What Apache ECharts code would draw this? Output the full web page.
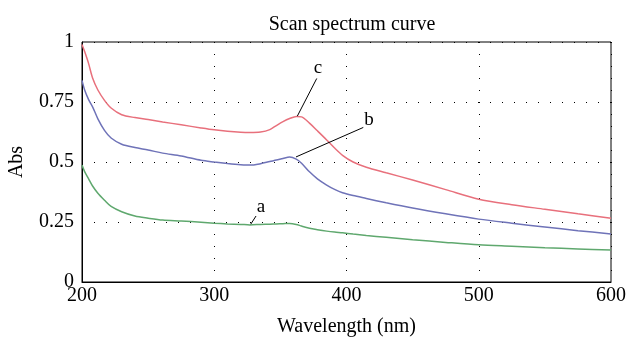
<!DOCTYPE html>
<html>
<head>
<meta charset="utf-8">
<script src="https://cdn.jsdelivr.net/npm/echarts@6/dist/echarts.min.js"></script>
<style>
  html, body { margin: 0; padding: 0; background: #fff; }
  #chart { width: 630px; height: 339px; }
</style>
</head>
<body>
<div id="chart"></div>
<script>
// wavelength samples (nm)
const wavelengths = [200, 202, 205, 208, 212, 217, 222, 230, 240, 250, 261, 275, 290, 300, 310, 320, 327, 335, 342, 347, 352, 357, 362, 366, 372, 378, 385, 391, 397, 405, 415, 430, 450, 475, 500, 525, 550, 575, 600];

// absorbance
const curveA = [0.487, 0.46, 0.43, 0.40, 0.37, 0.341, 0.315, 0.293, 0.275, 0.266, 0.258, 0.254, 0.249, 0.245, 0.242, 0.240, 0.238, 0.240, 0.241, 0.242, 0.243, 0.244, 0.240, 0.233, 0.224, 0.218, 0.212, 0.208, 0.205, 0.200, 0.194, 0.186, 0.176, 0.165, 0.155, 0.149, 0.143, 0.138, 0.133];
const curveB = [0.84, 0.80, 0.76, 0.73, 0.68, 0.632, 0.600, 0.574, 0.560, 0.550, 0.537, 0.525, 0.507, 0.500, 0.494, 0.489, 0.487, 0.493, 0.502, 0.508, 0.515, 0.521, 0.512, 0.495, 0.459, 0.430, 0.404, 0.386, 0.372, 0.360, 0.348, 0.330, 0.308, 0.284, 0.262, 0.245, 0.229, 0.214, 0.200];
const curveC = [0.99, 0.96, 0.91, 0.85, 0.80, 0.757, 0.725, 0.697, 0.685, 0.677, 0.667, 0.655, 0.642, 0.634, 0.628, 0.624, 0.623, 0.625, 0.635, 0.652, 0.668, 0.681, 0.690, 0.688, 0.662, 0.630, 0.592, 0.558, 0.528, 0.500, 0.478, 0.455, 0.425, 0.385, 0.345, 0.322, 0.303, 0.284, 0.266];

// annotation leaders: [from point on curve, to label end], label position
const labelNames = ['a', 'b', 'c'];
const leaderStart = [[327.6, 0.241], [361.8, 0.521], [362.8, 0.691]];
const leaderEnd = [[331.6, 0.275], [412.7, 0.644], [377.5, 0.848]];
const labelAt = [[335.3, 0.312], [417, 0.674], [378.5, 0.892]];

const seriesColors = ['#5fa86e', '#6f73b8', '#e8707c'];
const serifFont = '"Liberation Serif", "DejaVu Serif", serif';

function pairs(ys) {
  return wavelengths.map((x, i) => [x, ys[i]]);
}

const chart = echarts.init(document.getElementById('chart'));

const curves = [curveA, curveB, curveC];
const series = curves.map((ys, i) => ({
  name: labelNames[i],
  type: 'line',
  data: pairs(ys),
  showSymbol: false,
  smooth: 0.3,
  lineStyle: { color: seriesColors[i], width: 1.5 },
  itemStyle: { color: seriesColors[i] },
  z: 3,
  markLine: {
    silent: true,
    symbol: 'none',
    animation: false,
    lineStyle: { color: '#000', width: 1, type: 'solid' },
    label: { show: false },
    data: [[{ coord: leaderStart[i] }, { coord: leaderEnd[i] }]]
  },
  markPoint: {
    silent: true,
    symbol: 'circle',
    symbolSize: 0,
    animation: false,
    label: {
      show: true,
      position: 'inside',
      color: '#000',
      fontFamily: serifFont,
      fontSize: 19,
      formatter: labelNames[i]
    },
    data: [{ coord: labelAt[i] }]
  }
}));

const option = {
  backgroundColor: '#fff',
  animation: false,
  title: {
    text: 'Scan spectrum curve',
    left: 347,
    top: 10,
    textAlign: 'center',
    textStyle: { fontFamily: serifFont, fontSize: 20, fontWeight: 'normal', color: '#000' }
  },
  grid: {
    left: 82,
    right: 19,
    top: 42,
    bottom: 57,
    outerBoundsMode: 'none',
    containLabel: false,
    show: true,
    borderColor: '#000',
    borderWidth: 1,
    backgroundColor: 'transparent'
  },
  xAxis: {
    type: 'value',
    min: 200,
    max: 600,
    interval: 100,
    name: 'Wavelength (nm)',
    nameLocation: 'middle',
    nameGap: 35,
    nameTextStyle: { fontFamily: serifFont, fontSize: 20, color: '#000' },
    axisLine: { show: true, lineStyle: { color: '#000', width: 1 } },
    axisTick: { show: false },
    axisLabel: { fontFamily: serifFont, fontSize: 20, color: '#000', margin: 4 },
    splitLine: { show: true, lineStyle: { color: '#000', width: 1, type: [1, 11] } }
  },
  yAxis: {
    type: 'value',
    min: 0,
    max: 1,
    interval: 0.25,
    name: 'Abs',
    nameLocation: 'middle',
    nameGap: 55,
    nameTextStyle: { fontFamily: serifFont, fontSize: 20, color: '#000' },
    axisLine: { show: true, lineStyle: { color: '#000', width: 1 } },
    axisTick: { show: false },
    axisLabel: { fontFamily: serifFont, fontSize: 20, color: '#000', margin: 8 },
    splitLine: { show: true, lineStyle: { color: '#000', width: 1, type: [1, 11] } }
  },
  series: series
};

chart.setOption(option);
</script>
</body>
</html>
